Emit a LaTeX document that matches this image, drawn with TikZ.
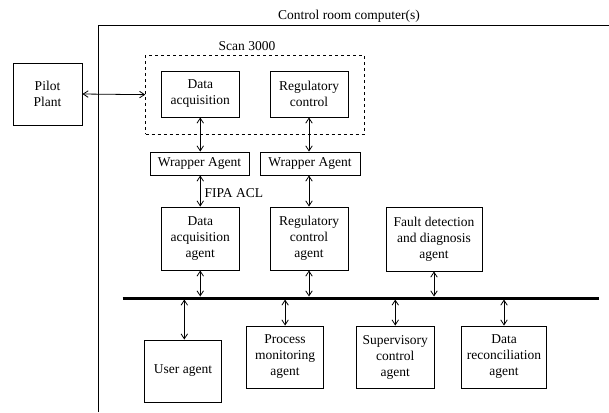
\documentclass[tikz,border=0pt]{standalone}
\usepackage{fontspec}
\setmainfont{Liberation Serif}
\usetikzlibrary{arrows.meta}
\begin{document}
\begin{tikzpicture}[x=1bp,y=-1bp,
  box/.style={draw,line width=0.9bp,inner sep=0pt,align=center,font=\fontsize{13.5bp}{16bp}\selectfont},
  lbl/.style={inner sep=0pt,font=\fontsize{13.5bp}{16bp}\selectfont},
  link/.style={line width=0.8bp,{Straight Barb[length=5bp,width=6.5bp]}-{Straight Barb[length=5bp,width=6.5bp]}},
  bus/.style={line width=3bp}]
\useasboundingbox (0,0) rectangle (609,412);
% frame
\coordinate (fbl) at (98.7,412);
\coordinate (ftl) at (98.7,25.7);
\coordinate (ftr) at (609,25.7);
\draw[line width=0.9bp] (fbl) -- (ftl) -- (ftr);
\node[lbl] (title) at (349,16) {Control room computer(s)};
% scan 3000
\node[draw,dashed,dash pattern=on 3bp off 3bp,line width=0.9bp,minimum width=218.3bp,minimum height=79.3bp,inner sep=0pt] (scan) at (254.85,94.65) {};
\node[lbl] (scanlbl) at (247,46) {Scan 3000};
\node[box,minimum width=69bp,minimum height=62bp] (pilot) at (47.5,94) {Pilot\\Plant};
\node[box,minimum width=77.5bp,minimum height=46bp] (da) at (200.25,94) {Data\\acquisition};
\node[box,minimum width=78bp,minimum height=46bp] (rc) at (309,94) {Regulatory\\control};
\node[box,minimum width=99bp,minimum height=23bp] (w1) at (199.5,163.5) {Wrapper Agent};
\node[box,minimum width=100bp,minimum height=23bp] (w2) at (310,163.5) {Wrapper Agent};
\node[box,minimum width=77.5bp,minimum height=63bp] (daa) at (200.25,238.5) {Data\\acquisition\\agent};
\node[box,minimum width=78bp,minimum height=63bp] (rca) at (309,238.5) {Regulatory\\control\\agent};
\node[box,minimum width=96bp,minimum height=64bp] (fda) at (434,239) {Fault detection\\and diagnosis\\agent};
\node[lbl,anchor=west] (fipa) at (204.5,193) {FIPA ACL};
% bus
\coordinate (busl) at (122.7,298);
\coordinate (busr) at (599,298);
\draw[bus] (busl) -- (busr);
\node[box,minimum width=77.4bp,minimum height=62bp] (user) at (183,371) {User agent};
\node[box,minimum width=76.8bp,minimum height=62bp] (pma) at (285.1,357) {Process\\monitoring\\agent};
\node[box,minimum width=77.5bp,minimum height=62bp] (sca) at (395.25,357) {Supervisory\\control\\agent};
\node[box,minimum width=84.6bp,minimum height=62bp] (drc) at (504,357) {Data\\reconciliation\\agent};
% bus taps
\coordinate (t1) at (200.25,296.5);
\coordinate (t2) at (309,296.5);
\coordinate (t3) at (434,296.5);
\coordinate (b1) at (184.3,299.5);
\coordinate (b2) at (285.1,299.5);
\coordinate (b3) at (395.25,299.5);
\coordinate (b4) at (504,299.5);
% links
\draw[link] (pilot.east) -- (scan.west);
\draw[link] (da.south) -- (da.south |- w1.north);
\draw[link] (rc.south) -- (rc.south |- w2.north);
\draw[link] (da.south |- w1.south) -- (daa.north);
\draw[link] (rc.south |- w2.south) -- (rca.north);
\draw[link] (daa.south) -- (t1);
\draw[link] (rca.south) -- (t2);
\draw[link] (fda.south) -- (t3);
\draw[link] (b1) -- (b1 |- user.north);
\draw[link] (b2) -- (pma.north);
\draw[link] (b3) -- (sca.north);
\draw[link] (b4) -- (drc.north);
\end{tikzpicture}
\end{document}
